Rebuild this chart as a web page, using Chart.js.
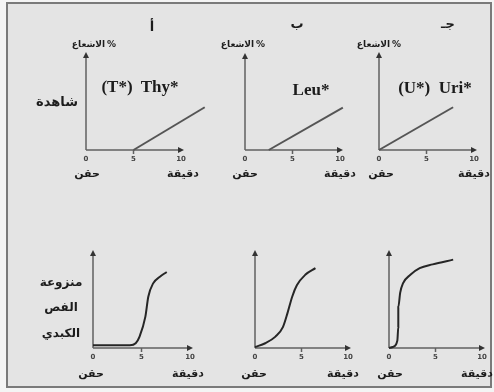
<!DOCTYPE html>
<html>
<head>
<meta charset="utf-8">
<script src="https://cdn.jsdelivr.net/npm/chart.js@4.4.1/dist/chart.umd.min.js"></script>
<style>
    body { margin: 0; background: #f4f4f4; }
    #wrap { position: relative; width: 494px; height: 392px; overflow: hidden; }
    #frame { position: absolute; left: 6px; top: 2px; width: 482px; height: 382px; border: 2px solid #7a7a7a; background: #e4e4e4; }
    canvas { position: absolute; left: 0; top: 0; }
    .lbl { position: absolute; transform: translate(-50%, -50%); white-space: nowrap; color: #1c1c1c; }
    .ar { font-family: "DejaVu Sans", sans-serif; font-weight: bold; font-size: 11px; }
    .en { font-family: "Liberation Serif", serif; font-weight: bold; font-size: 17px; }
    .pair { display: flex; flex-direction: row; direction: ltr; gap: 2px; align-items: center; }
</style>
</head>
<body>
<div id="wrap">
    <div id="frame"></div>
    <canvas id="c1" width="494" height="392"></canvas>
    <canvas id="c2" width="494" height="392"></canvas>
    <canvas id="c3" width="494" height="392"></canvas>
    <canvas id="c4" width="494" height="392"></canvas>
    <canvas id="c5" width="494" height="392"></canvas>
    <canvas id="c6" width="494" height="392"></canvas>
</div>
<script>
// tick values on the time axis (minutes)
const xTicks = [0, 5, 10];

// top row: radioactivity % in control animals
const thyX = [5, 12.5];
const thyY = [0, 45];
const leuX = [2.5, 10.3];
const leuY = [0, 45];
const uriX = [0, 7.8];
const uriY = [0, 45];

// bottom row: liver lobe removed
const thyHepX = [0, 2.8, 3.8, 4.4, 4.8, 5.4, 5.7, 6.2, 6.9, 7.6];
const thyHepY = [3, 3, 3, 5, 12, 33, 54, 68, 75, 80];
const leuHepX = [0, 1.1, 2.2, 3.0, 3.5, 4.0, 4.5, 5.4, 6.5];
const leuHepY = [1, 5, 12, 22, 37, 54, 66, 77, 84];
const uriHepX = [0, 0.4, 0.9, 1.0, 1.0, 1.2, 1.5, 2.3, 3.3, 4.7, 6.9];
const uriHepY = [0, 1, 8, 22, 43, 58, 68, 77, 84, 88, 93];

// panel boxes: origin x/y, x at 10 min, y at top of axis
const panels = [
    {id: 'c1', xs: thyX, ys: thyY, ox: 86, oy: 150, xr: 181, yt: 55, curve: false},
    {id: 'c2', xs: leuX, ys: leuY, ox: 245, oy: 150, xr: 340, yt: 56, curve: false},
    {id: 'c3', xs: uriX, ys: uriY, ox: 379, oy: 150, xr: 474, yt: 55, curve: false},
    {id: 'c4', xs: thyHepX, ys: thyHepY, ox: 93, oy: 348, xr: 190, yt: 253, curve: true},
    {id: 'c5', xs: leuHepX, ys: leuHepY, ox: 255, oy: 348, xr: 348, yt: 253, curve: true},
    {id: 'c6', xs: uriHepX, ys: uriHepY, ox: 389, oy: 348, xr: 482, yt: 253, curve: true}
];

const axesPlugin = {
    id: 'axes',
    beforeDatasetsDraw(chart) {
        const ctx = chart.ctx;
        const x = chart.scales.x, y = chart.scales.y;
        const x0 = x.getPixelForValue(0), y0 = y.getPixelForValue(0);
        const xe = x.getPixelForValue(10), yt = y.getPixelForValue(100);
        ctx.save();
        ctx.strokeStyle = '#606060';
        ctx.fillStyle = '#333';
        ctx.lineWidth = 1.5;
        ctx.beginPath();
        ctx.moveTo(x0, y0); ctx.lineTo(xe, y0);
        ctx.moveTo(x0, y0); ctx.lineTo(x0, yt);
        ctx.stroke();
        // arrow heads
        ctx.beginPath();
        ctx.moveTo(xe + 3, y0); ctx.lineTo(xe - 3, y0 - 3); ctx.lineTo(xe - 3, y0 + 3);
        ctx.closePath(); ctx.fill();
        ctx.beginPath();
        ctx.moveTo(x0, yt - 3); ctx.lineTo(x0 - 3, yt + 3); ctx.lineTo(x0 + 3, yt + 3);
        ctx.closePath(); ctx.fill();
        // ticks and tick labels
        ctx.font = 'bold 7px "DejaVu Sans"';
        ctx.fillStyle = '#444';
        ctx.textAlign = 'center';
        ctx.textBaseline = 'middle';
        x.ticks.forEach(t => {
            const px = x.getPixelForValue(t.value);
            if (t.value !== 0 && t.value !== 10) {
                ctx.beginPath();
                ctx.moveTo(px, y0); ctx.lineTo(px, y0 + 4);
                ctx.stroke();
            }
            ctx.fillText(String(t.value), px, y0 + 9);
        });
        ctx.restore();
    }
};

panels.forEach(p => {
    new Chart(document.getElementById(p.id), {
        type: 'line',
        data: {
            datasets: [{
                data: p.xs.map((v, i) => ({x: v, y: p.ys[i]})),
                borderColor: p.curve ? '#262626' : '#555',
                borderWidth: 2,
                pointRadius: 0,
                fill: false,
                clip: false,
                tension: 0,
                cubicInterpolationMode: p.curve ? 'monotone' : 'default'
            }]
        },
        options: {
            responsive: false,
            animation: false,
            events: [],
            layout: {padding: {left: p.ox, right: 494 - p.xr, top: p.yt, bottom: 392 - p.oy}},
            plugins: {legend: {display: false}, tooltip: {enabled: false}},
            scales: {
                x: {type: 'linear', display: false, min: xTicks[0], max: xTicks[xTicks.length - 1],
                    afterBuildTicks: s => { s.ticks = xTicks.map(v => ({value: v})); }},
                y: {type: 'linear', display: false, min: 0, max: 100}
            }
        },
        plugins: [axesPlugin]
    });
});

// text labels
const radLabel = '<div class="pair"><span>الاشعاع</span><span>%</span></div>';
const labels = [
    ['ar', 'أ', 152, 26, 13],
    ['ar', 'ب', 297, 23, 13],
    ['ar', 'جـ', 448, 23, 13],
    ['ar', radLabel, 94, 44, 9],
    ['ar', radLabel, 243, 44, 9],
    ['ar', radLabel, 379, 44, 9],
    ['ar', 'شاهدة', 57, 101, 13],
    ['en', '(T*)&nbsp; Thy*', 140, 87],
    ['en', 'Leu*', 311, 90],
    ['en', '(U*)&nbsp; Uri*', 435, 88],
    ['ar', 'منزوعة', 61, 282, 12],
    ['ar', 'الفص', 61, 307, 12],
    ['ar', 'الكبدي', 61, 333, 12],
    ['ar', 'حقن', 87, 173], ['ar', 'حقن', 245, 173], ['ar', 'حقن', 381, 173],
    ['ar', 'دقيقة', 183, 173], ['ar', 'دقيقة', 340, 173], ['ar', 'دقيقة', 474, 173],
    ['ar', 'حقن', 91, 373], ['ar', 'حقن', 254, 373], ['ar', 'حقن', 390, 373],
    ['ar', 'دقيقة', 188, 373], ['ar', 'دقيقة', 343, 373], ['ar', 'دقيقة', 477, 373]
];
const wrap = document.getElementById('wrap');
labels.forEach(l => {
    const d = document.createElement('div');
    d.className = 'lbl ' + l[0];
    d.innerHTML = l[1];
    d.style.left = l[2] + 'px';
    d.style.top = l[3] + 'px';
    if (l[4]) d.style.fontSize = l[4] + 'px';
    wrap.appendChild(d);
});
</script>
</body>
</html>
